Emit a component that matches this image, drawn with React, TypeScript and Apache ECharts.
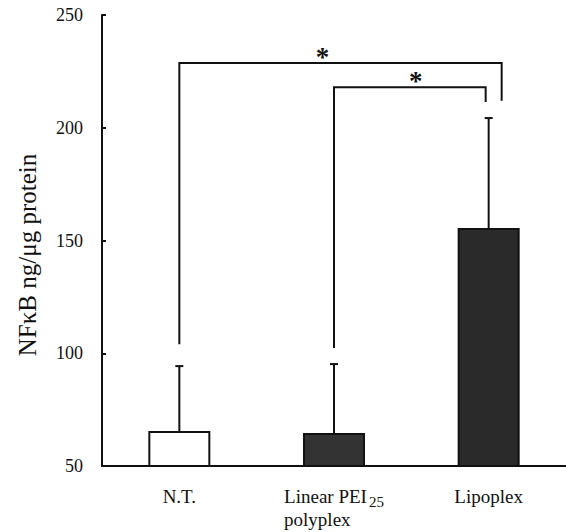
import React, { useEffect, useRef } from "react";
import * as echarts from "echarts";

// ---- data ----
const categories = ["N.T.", "Linear PEI25 polyplex", "Lipoplex"];
const means = [65.5, 64.6, 155.5];
const errorTops = [94.3, 95.2, 204.3];
const yTicks = [50, 100, 150, 200, 250];

// significance brackets (category index from/to, values)
const bracketFrom = [0, 1];
const bracketTo = [2, 2];
const bracketTop = [228.7, 218];
const bracketLeftBottom = [104, 102.3];
const bracketRightBottom = [212, 211.4];
const bracketMark = ["*", "*"];

const FONT = "'Liberation Serif', 'DejaVu Serif', serif";

export default function App() {
  const ref = useRef<HTMLDivElement>(null);
  useEffect(() => {
    if (!ref.current) return;
    const chart = echarts.init(ref.current, null, { renderer: "svg" });
    const barFill = ["#ffffff", "#333333", "#2a2a2a"];
    const rightLegOffset = [13, -3];
    const markOffset = [-18, 6];

    chart.setOption({
      animation: false,
      backgroundColor: "#ffffff",
      grid: { left: 102, right: 0, top: 15, bottom: 66, containLabel: false },
      xAxis: {
        type: "category",
        data: categories,
        axisLine: { lineStyle: { color: "#111", width: 2 } },
        axisTick: { show: false },
        axisLabel: {
          margin: 19,
          interval: 0,
          formatter: (v: string) => {
            if (v.indexOf("PEI25") >= 0) {
              return "{a|Linear PEI}{sub|25}\n{a|polyplex}";
            }
            return "{a|" + v + "}";
          },
          rich: {
            a: {
              fontFamily: FONT,
              fontSize: 19,
              color: "#111",
              align: "left",
              lineHeight: 23,
            },
            sub: {
              fontFamily: FONT,
              fontSize: 15,
              color: "#111",
              align: "left",
              padding: [10, 0, 0, 2],
              lineHeight: 13,
            },
          },
        },
      },
      yAxis: {
        type: "value",
        min: yTicks[0],
        max: yTicks[yTicks.length - 1],
        interval: 50,
        splitLine: { show: false },
        axisLine: { show: true, lineStyle: { color: "#111", width: 2 } },
        axisTick: { show: true, inside: true, length: 4, lineStyle: { color: "#111", width: 2 } },
        axisLabel: { fontFamily: FONT, fontSize: 18, color: "#111", margin: 19 },
      },
      graphic: [
        {
          type: "text",
          x: 27,
          y: 255,
          rotation: Math.PI / 2,
          style: {
            text: "NFκB ng/μg protein",
            fontFamily: FONT,
            fontSize: 25,
            fill: "#111",
            align: "center",
            verticalAlign: "middle",
          },
        },
      ],
      series: [
        {
          type: "bar",
          barWidth: 62,
          z: 3,
          data: means.map((m, i) => ({
            value: m,
            itemStyle: { color: barFill[i], borderColor: "#111", borderWidth: 2 },
          })),
        },
        {
          type: "custom",
          z: 2,
          data: means.map((m, i) => [i, m, errorTops[i]]),
          renderItem: (params: any, api: any) => {
            const i = api.value(0);
            const base = api.coord([i, api.value(1)]);
            const top = api.coord([i, api.value(2)]);
            const style = { stroke: "#111", lineWidth: 2 };
            return {
              type: "group",
              children: [
                { type: "line", shape: { x1: base[0], y1: base[1], x2: top[0], y2: top[1] }, style },
                { type: "line", shape: { x1: top[0] - 4, y1: top[1], x2: top[0] + 4, y2: top[1] }, style },
              ],
            };
          },
        },
        {
          type: "custom",
          z: 4,
          data: bracketFrom.map((f, i) => [f, bracketTop[i]]),
          renderItem: (params: any, api: any) => {
            const k = params.dataIndex;
            const L = api.coord([bracketFrom[k], bracketTop[k]]);
            const Lb = api.coord([bracketFrom[k], bracketLeftBottom[k]]);
            const R = api.coord([bracketTo[k], bracketTop[k]]);
            const Rb = api.coord([bracketTo[k], bracketRightBottom[k]]);
            const rx = R[0] + rightLegOffset[k];
            const style = { stroke: "#111", lineWidth: 2, fill: "none" };
            return {
              type: "group",
              children: [
                {
                  type: "polyline",
                  shape: { points: [[L[0], Lb[1]], [L[0], L[1]], [rx, L[1]], [rx, Rb[1]]] },
                  style,
                },
                {
                  type: "text",
                  x: (L[0] + rx) / 2 + markOffset[k],
                  y: L[1] + 7,
                  style: {
                    text: bracketMark[k],
                    fontFamily: FONT,
                    fontSize: 27,
                    fontWeight: "bold",
                    fill: "#111",
                    align: "center",
                    verticalAlign: "bottom",
                  },
                },
              ],
            };
          },
        },
      ],
    });
    return () => chart.dispose();
  }, []);
  return (
    <div
      ref={ref}
      style={{ position: "absolute", left: 0, top: 0, width: 566, height: 532 }}
    />
  );
}
